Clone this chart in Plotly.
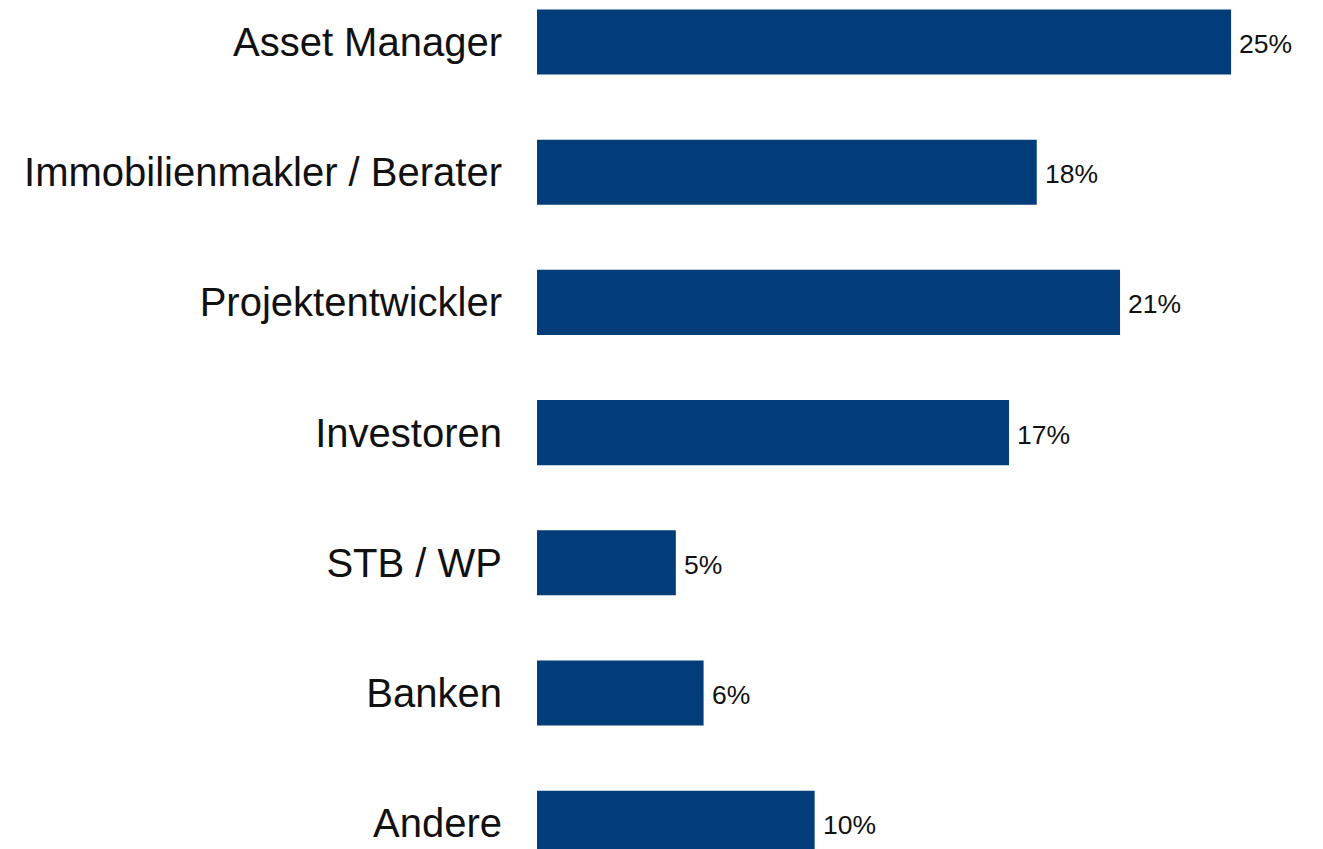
import plotly.graph_objects as go

categories = ["Asset Manager", "Immobilienmakler / Berater", "Projektentwickler",
              "Investoren", "STB / WP", "Banken", "Andere"]
values = [25, 18, 21, 17, 5, 6, 10]
value_labels = ["25%", "18%", "21%", "17%", "5%", "6%", "10%"]

FONT = "Liberation Sans, Arial, Helvetica, sans-serif"

fig = go.Figure(go.Bar(
    x=values,
    y=categories,
    orientation="h",
    marker=dict(color="#023c79", line=dict(width=0)),
    width=0.5,
    hoverinfo="skip",
))

for v, c, t in zip(values, categories, value_labels):
    fig.add_annotation(
        x=v, y=c, text=t, showarrow=False,
        xanchor="left", yanchor="middle", xshift=6, yshift=-2,
        font=dict(family=FONT, size=26.5, color="#111111"),
    )

fig.update_layout(
    width=1323,
    height=849,
    margin=dict(l=537, r=0, t=0, b=0),
    paper_bgcolor="white",
    plot_bgcolor="white",
    showlegend=False,
    font=dict(family=FONT, color="#111111"),
    xaxis=dict(range=[0, 28.31], visible=False, showgrid=False, zeroline=False),
    yaxis=dict(
        type="category",
        categoryorder="array",
        categoryarray=categories,
        range=[6.198, -0.3226],
        showgrid=False,
        zeroline=False,
        showline=False,
        ticks="",
        ticklabelstandoff=34,
        tickfont=dict(size=40, color="#111111"),
    ),
)

fig.write_html("out.html")
